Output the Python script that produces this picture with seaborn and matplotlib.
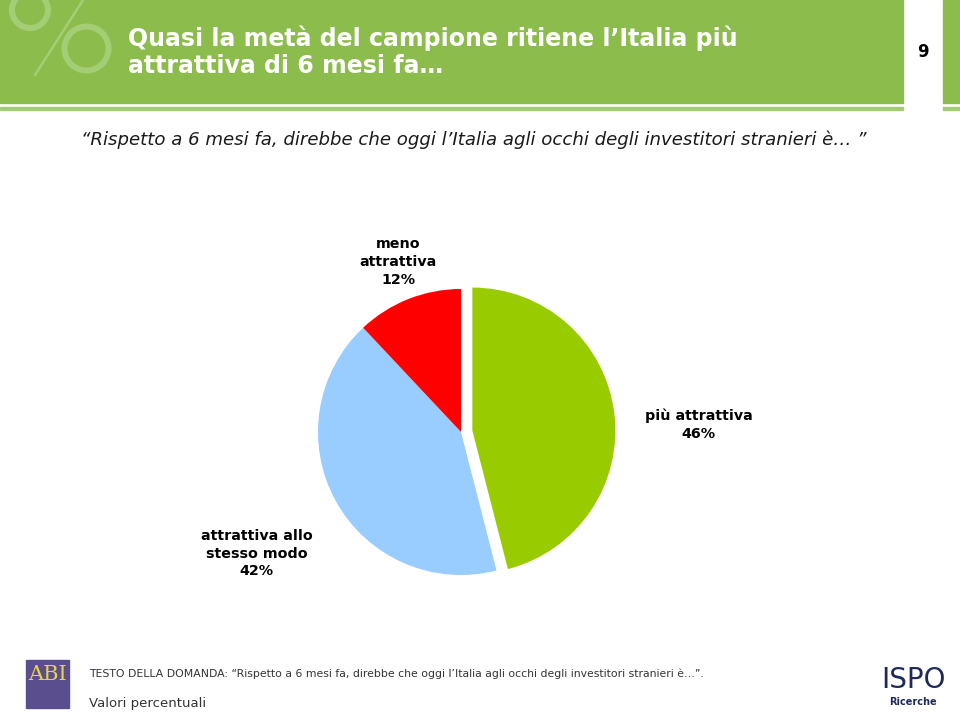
import matplotlib
matplotlib.use("Agg")
import matplotlib.pyplot as plt
import seaborn as sns
from matplotlib.patches import Rectangle, Circle
from matplotlib.lines import Line2D

# ==================== Dati ====================
categories = ["più attrattiva", "attrattiva allo\nstesso modo", "meno\nattrattiva"]
values = [46, 42, 12]
colors = ["#99CC00", "#99CCFF", "#FF0000"]
explode = [0.08, 0, 0]

title = "Quasi la metà del campione ritiene l’Italia più\nattrattiva di 6 mesi fa…"
question = "“Rispetto a 6 mesi fa, direbbe che oggi l’Italia agli occhi degli investitori stranieri è… ”"
footer_q = "TESTO DELLA DOMANDA: “Rispetto a 6 mesi fa, direbbe che oggi l’Italia agli occhi degli investitori stranieri è…”."
footer_v = "Valori percentuali"

sns.set_theme(style="white")
plt.rcParams['font.family'] = ['DejaVu Sans']

W, H = 960, 712
fig = plt.figure(figsize=(W / 100, H / 100), dpi=100)
fig.patch.set_facecolor("white")

def px(x, y):
    # pixel (dall'alto a sinistra) -> coordinate figura
    return x / W, 1 - y / H

def rect(x0, y0, w, h, color):
    fig.patches.append(Rectangle(px(x0, y0 + h), w / W, h / H, transform=fig.transFigure,
                                 color=color, zorder=-1))

# ==================== Intestazione ====================
header = "#8CBD4C"
rect(0, 0, 903, 103, header)
rect(943, 0, 17, 103, header)
rect(0, 107, 903, 3, "#A3CB73")
rect(943, 107, 17, 3, "#A3CB73")

# simbolo % decorativo (anelli e barra)
wm = "#A4CE76"
ov = fig.add_axes([0, 1 - 103 / H, 130 / W, 103 / H])
ov.set_xlim(0, 130)
ov.set_ylim(103, 0)
ov.axis("off")
ov.patch.set_alpha(0)
ov.add_patch(Circle((30, 10), 18, fill=False, lw=4.3, ec=wm))
ov.add_patch(Circle((86.5, 48.5), 22, fill=False, lw=4.3, ec=wm))
ov.add_line(Line2D([83, 35], [0, 75], lw=1.8, color=wm))

fig.text(*px(128, 52), title, fontsize=17, fontweight="bold", color="white",
         ha="left", va="center", linespacing=1.15)
fig.text(*px(923, 52), "9", fontsize=12, fontweight="bold", color="black",
         ha="center", va="center")

fig.text(*px(474, 140), question, fontsize=13.1, style="italic", color="#1a1a1a",
         ha="center", va="center")

# ==================== Torta ====================
cx, cy, r = 461, 432, 143
ax = fig.add_axes([(cx - r) / W, (H - cy - r) / H, 2 * r / W, 2 * r / H])
wedges, _ = ax.pie(values, colors=colors, explode=explode, startangle=90,
                   counterclock=False, radius=1,
                   wedgeprops=dict(linewidth=0, clip_on=False))
ax.set_xlim(-1, 1)
ax.set_ylim(-1, 1)
ax.set_aspect("equal")
ax.axis("off")

label_pos = [(1.66, 0.05), (-1.43, -0.85), (-0.44, 1.19)]
for cat, v, (lx, ly) in zip(categories, values, label_pos):
    ax.text(lx, ly, f"{cat}\n{v}%", ha="center", va="center", fontsize=10.3,
            fontweight="bold", color="black", linespacing=1.35, clip_on=False)

# ==================== Piè di pagina ====================
rect(26, 660, 43, 48, "#5B4E8E")
fig.text(*px(47, 675), "ABI", fontsize=15, color="#E8D24A", ha="center", va="center",
         family="DejaVu Serif")
fig.text(*px(89, 674), footer_q, fontsize=7.8, color="#333333", ha="left", va="center")
fig.text(*px(89, 703), footer_v, fontsize=9.5, color="#333333", ha="left", va="center")
fig.text(*px(913, 680), "ISPO", fontsize=20, color="#1F2A5A", ha="center", va="center")
fig.text(*px(913, 702), "Ricerche", fontsize=7, color="#1F2A5A", ha="center", va="center",
         fontweight="bold")

fig.savefig("out.png", dpi=100)
